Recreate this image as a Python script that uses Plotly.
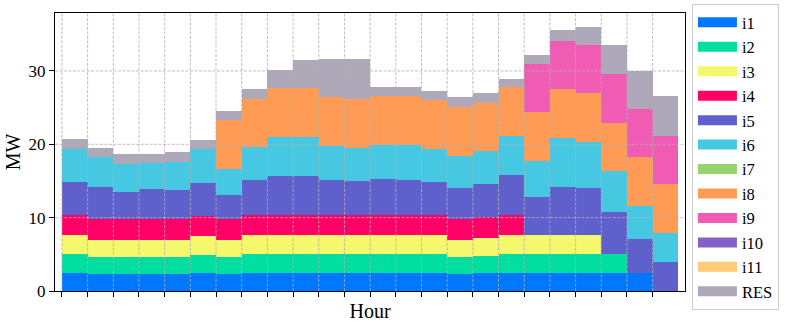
import plotly.graph_objects as go

hours = list(range(24))

# MW per unit and hour (stacked)
i1 = [2.52, 2.29, 2.29, 2.29, 2.29, 2.39, 2.29, 2.52, 2.52, 2.52, 2.52, 2.52,
      2.52, 2.52, 2.52, 2.29, 2.43, 2.52, 2.52, 2.52, 2.52, 2.52, 2.52, 0]
i2 = [2.50, 2.36, 2.36, 2.36, 2.36, 2.54, 2.36, 2.50, 2.50, 2.50, 2.50, 2.50,
      2.50, 2.50, 2.50, 2.36, 2.40, 2.50, 2.50, 2.50, 2.50, 2.50, 0, 0]
i3 = [2.58, 2.36, 2.36, 2.36, 2.36, 2.54, 2.36, 2.58, 2.58, 2.58, 2.58, 2.58,
      2.58, 2.58, 2.58, 2.36, 2.45, 2.58, 2.58, 2.58, 2.58, 0, 0, 0]
i4 = [2.77, 2.81, 2.81, 2.81, 2.81, 2.81, 2.81, 2.77, 2.77, 2.77, 2.77, 2.77,
      2.77, 2.77, 2.77, 2.81, 2.77, 2.77, 0, 0, 0, 0, 0, 0]
i5 = [4.52, 4.36, 3.68, 4.04, 3.99, 4.49, 3.31, 4.75, 5.35, 5.35, 4.80, 4.62,
      4.89, 4.80, 4.53, 4.22, 4.53, 5.48, 5.26, 6.58, 6.49, 5.80, 4.58, 4.02]
i6 = [4.50, 4.03, 3.85, 3.58, 3.81, 4.53, 3.50, 4.50, 5.30, 5.26, 4.63, 4.54,
      4.65, 4.72, 4.44, 4.40, 4.49, 5.26, 4.85, 6.66, 6.21, 5.49, 4.49, 3.85]
i7 = [0] * 24
i8 = [0, 0, 0, 0, 0, 0, 6.71, 6.57, 6.67, 6.67, 6.62, 6.62,
      6.65, 6.67, 6.67, 6.66, 6.58, 6.67, 6.67, 6.67, 6.67, 6.66, 6.62, 6.67]
i9 = [0] * 18 + [6.57, 6.57, 6.61, 6.62, 6.58, 6.62]
i10 = [0] * 24
i11 = [0] * 24
res = [1.32, 1.27, 1.27, 1.27, 1.32, 1.22, 1.22, 1.41, 2.40, 3.90, 5.21, 5.48,
       1.27, 1.22, 1.32, 1.32, 1.36, 1.18, 1.27, 1.46, 2.46, 3.94, 5.19, 5.48]

names = ["i1", "i2", "i3", "i4", "i5", "i6", "i7", "i8", "i9", "i10", "i11", "RES"]
series = [i1, i2, i3, i4, i5, i6, i7, i8, i9, i10, i11, res]
colors = ["#0077ff", "#00dea0", "#f5f76c", "#ff0066", "#5f60cc", "#46c8e2",
          "#94d36e", "#ff9b55", "#f05bb4", "#8560c8", "#ffca7a", "#aea8b8"]

font = "Liberation Serif"

fig = go.Figure()

for name, vals, c in zip(names, series, colors):
    fig.add_trace(go.Bar(x=hours, y=vals, name=name, marker_color=c,
                         marker_line_width=0, width=1, offset=0,
                         showlegend=False))
    # wide legend swatch, like matplotlib's patch handles
    fig.add_trace(go.Scatter(x=[None], y=[None], mode="lines", name=name,
                             line=dict(color=c, width=12)))

# dashed grid on top of bars
grid = dict(color="#b0b0b0", width=0.8, dash="3px,1.5px")
for h in hours:
    fig.add_shape(type="line", xref="x", yref="paper", x0=h, x1=h, y0=0, y1=1,
                  line=grid, layer="above")
for v in [10, 20, 30]:
    fig.add_shape(type="line", xref="paper", yref="y", x0=0, x1=1, y0=v, y1=v,
                  line=grid, layer="above")

fig.update_layout(
    barmode="stack",
    bargap=0,
    width=797, height=330,
    margin=dict(l=55, r=112, t=13, b=39, autoexpand=False),
    plot_bgcolor="white",
    paper_bgcolor="white",
    font=dict(family=font, size=17, color="black"),
    legend=dict(x=1.011, y=1.032, xanchor="left", yanchor="top",
                bordercolor="#cccccc", borderwidth=1, traceorder="normal",
                font=dict(family=font, size=16.5), tracegroupgap=0,
                itemwidth=39, maxheight=330),
)

fig.update_xaxes(range=[-0.27, 24.26], showgrid=False, zeroline=False,
                 tickvals=hours, showticklabels=False, ticks="outside",
                 ticklen=5, tickcolor="black", showline=True, linecolor="black",
                 linewidth=1, mirror=True, automargin=False,
                 title=dict(text="Hour", standoff=7))
fig.update_yaxes(range=[0, 37.9], showgrid=False, zeroline=False,
                 tickvals=[0, 10, 20, 30], ticks="outside", ticklen=5,
                 tickcolor="black", showline=True, linecolor="black",
                 linewidth=1, mirror=True, automargin=False,
                 title=dict(text="MW", standoff=2))

# page body has a default 8px margin; drop it so the figure fills the window
fig.write_html("out.html", config={"displayModeBar": False},
               post_script="document.body.style.margin='0';")
